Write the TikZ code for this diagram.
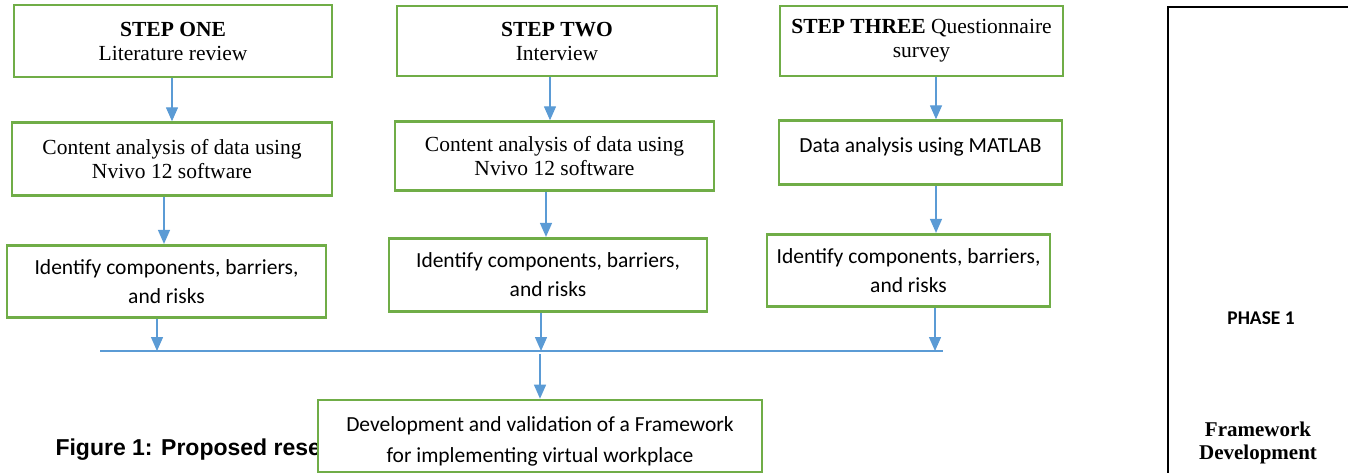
\documentclass[tikz,border=0pt]{standalone}
\usepackage{fontspec}
\setmainfont{Liberation Serif}
\newfontfamily\calibrifont{Carlito}
\newfontfamily\arialfont{Liberation Sans}
\usepackage{tikz}
\usetikzlibrary{positioning,arrows.meta}
\definecolor{StepGreen}{HTML}{70AD47}
\definecolor{FlowBlue}{HTML}{5B9BD5}

\begin{document}
\begin{tikzpicture}[x=1pt,y=-1pt,>={Triangle[length=14pt,width=12pt]}]
  \tikzstyle{stepbox}=[draw=StepGreen,line width=2.6pt,fill=white,align=center,inner sep=2pt]
  \tikzstyle{timesfont}=[font=\fontsize{21.5}{24}\selectfont]
  \tikzstyle{calfont}=[font=\calibrifont\fontsize{21.5}{29}\selectfont]
  \tikzstyle{flow}=[->,draw=FlowBlue,fill=FlowBlue,line width=1.4pt]
  \useasboundingbox (0,0) rectangle (1348,473);
  % column one
  \node[stepbox,timesfont,minimum width=318pt,minimum height=72pt] (s1) at (173,41)
    {\textbf{STEP ONE}\\Literature review};
  \node[stepbox,timesfont,minimum width=320pt,minimum height=73pt,below=43pt of s1,xshift=-1pt] (c1)
    {Content analysis of data using\\Nvivo 12 software};
  \node[stepbox,calfont,minimum width=319pt,minimum height=72pt,below=47pt of c1,xshift=-5.5pt] (r1)
    {Identify components, barriers,\\and risks};
  % column two
  \node[stepbox,timesfont,minimum width=320pt,minimum height=70pt] (s2) at (557,41)
    {\textbf{STEP TWO}\\Interview};
  \node[stepbox,timesfont,minimum width=319pt,minimum height=69pt,below=43pt of s2,xshift=-2.5pt] (c2)
    {Content analysis of data using\\Nvivo 12 software};
  \node[stepbox,calfont,minimum width=318pt,minimum height=73pt,below=45pt of c2,xshift=-6.5pt] (r2)
    {Identify components, barriers,\\and risks};
  % column three
  \node[stepbox,timesfont,minimum width=283pt,minimum height=70pt] (s3) at (921.5,41)
    {\textbf{STEP THREE} Questionnaire\\survey};
  \node[stepbox,calfont,minimum width=283pt,minimum height=64pt,text height=15pt,text depth=15pt,below=42pt of s3,xshift=-1pt] (c3)
    {Data analysis using MATLAB};
  \node[stepbox,calfont,minimum width=283pt,minimum height=72pt,below=47pt of c3,xshift=-12pt] (r3)
    {Identify components, barriers,\\and risks};
  % joining line and result
  \coordinate (busL) at (100,351);
  \coordinate (busR) at (943,351);
  \node[anchor=base west,font=\arialfont\bfseries\fontsize{23}{26}\selectfont] (cap) at (52,455)
    {Figure 1: Proposed rese};
  \node[stepbox,font=\calibrifont\fontsize{21.5}{31}\selectfont,text height=57pt,text depth=5pt,minimum width=444pt,minimum height=72pt] (fw) at (540,436)
    {Development and validation of a Framework\\for implementing virtual workplace};
  \draw[flow] ([xshift=-1pt]s1.south) -- ([xshift=-1pt]s1.south |- c1.north);
  \draw[flow] ([xshift=-8pt]c1.south) -- ([xshift=-8pt]c1.south |- r1.north);
  \draw[flow] ([xshift=-9.5pt]r1.south) -- ([xshift=-9.5pt]r1.south |- busL);
  \draw[flow] ([xshift=-7pt]s2.south) -- ([xshift=-7pt]s2.south |- c2.north);
  \draw[flow] ([xshift=-8.5pt]c2.south) -- ([xshift=-8.5pt]c2.south |- r2.north);
  \draw[flow] ([xshift=-7pt]r2.south) -- ([xshift=-7pt]r2.south |- busL);
  \draw[flow] ([xshift=14.5pt]s3.south) -- ([xshift=14.5pt]s3.south |- c3.north);
  \draw[flow] ([xshift=15.5pt]c3.south) -- ([xshift=15.5pt]c3.south |- r3.north);
  \draw[flow] ([xshift=26.5pt]r3.south) -- ([xshift=26.5pt]r3.south |- busL);
  \draw[FlowBlue,line width=1.4pt] (busL) -- (busR);
  \draw[flow,shorten <=3pt] (fw.north |- busL) -- (fw.north);
  % phase column
  \draw[line width=1.3pt] (1168,474) |- (1348,7);
  \node[font=\calibrifont\bfseries\fontsize{19.4}{22}\selectfont] (ph) at (1261,318) {PHASE 1};
  \node[font=\bfseries\fontsize{21}{23}\selectfont,align=center] (fd) at (1258,443)
    {Framework\\Development};
\end{tikzpicture}
\end{document}
